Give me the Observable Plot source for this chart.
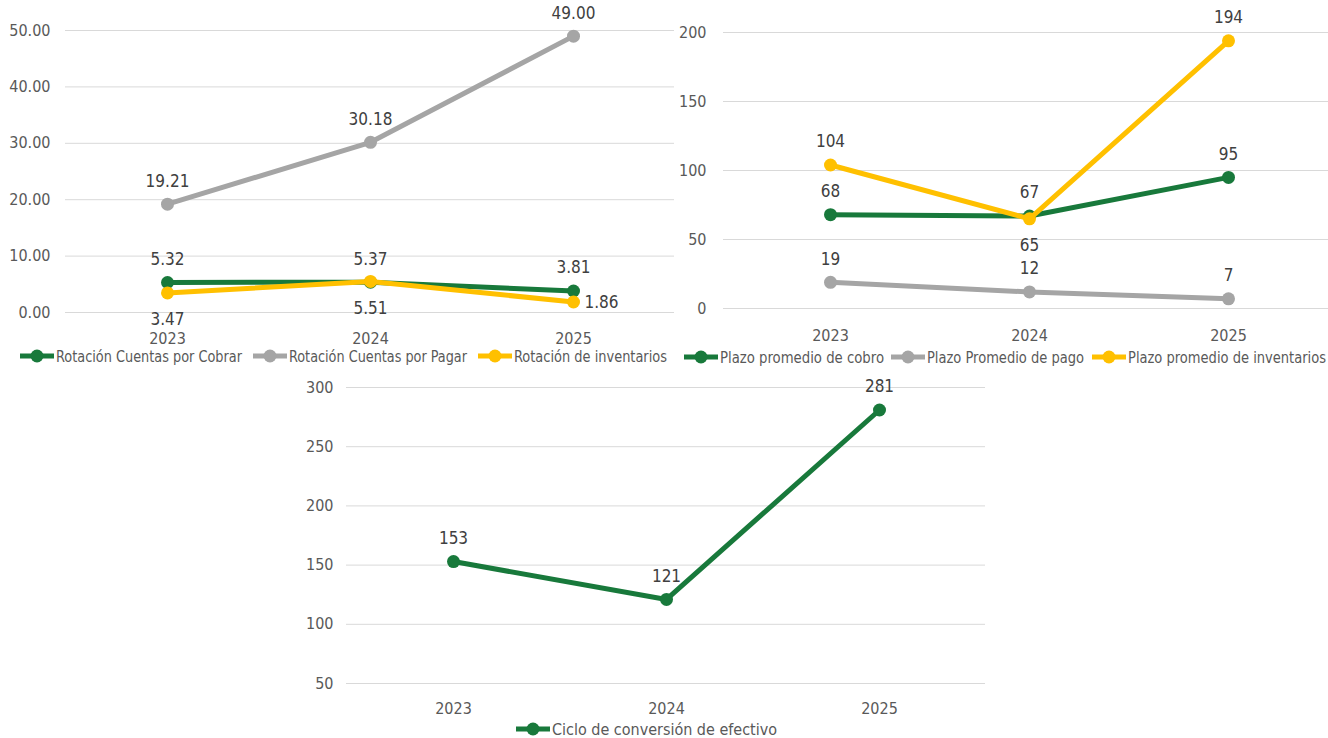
<!DOCTYPE html>
<html><head><meta charset="utf-8">
<script src="https://cdn.jsdelivr.net/npm/d3@7"></script>
<script src="https://cdn.jsdelivr.net/npm/@observablehq/plot@0.6"></script>
<style>
body{margin:0;background:#fff;font-family:"Liberation Sans Narrow","DejaVu Sans Condensed",sans-serif;}
#root{position:relative;width:1328px;height:738px;overflow:hidden;background:#fff;}
.chart{position:absolute;}
.lg{position:absolute;display:flex;align-items:center;font-size:16px;color:#595959;white-space:nowrap;height:20px;}
.lg svg{display:block;margin-right:1px;flex:none;}
.lg span{display:inline-block;transform-origin:0 50%;}
</style></head><body><div id="root"></div>
<script>
// ---- data ----
const years = ["2023", "2024", "2025"];
const rotCobrar = [5.32, 5.37, 3.81];
const rotPagar = [19.21, 30.18, 49.00];
const rotInv = [3.47, 5.51, 1.86];
const plazoCobro = [68, 67, 95];
const plazoPago = [19, 12, 7];
const plazoInv = [104, 65, 194];
const ciclo = [153, 121, 281];
const names1 = ["Rotación Cuentas por Cobrar", "Rotación Cuentas por Pagar", "Rotación de inventarios"];
const names2 = ["Plazo promedio de cobro", "Plazo Promedio de pago", "Plazo promedio de inventarios"];
const names3 = ["Ciclo de conversión de efectivo"];
const ticks1 = [0, 10, 20, 30, 40, 50];
const ticks2 = [0, 50, 100, 150, 200];
const ticks3 = [50, 100, 150, 200, 250, 300];

// ---- styles ----
const GREEN = "#18793B", GRAY = "#A5A5A5", YELLOW = "#FFC000";
const FONT = '"Liberation Sans Narrow","DejaVu Sans Condensed",sans-serif';
const root = document.getElementById("root");

function rowsOf(names, arrays) {
  const rows = [];
  names.forEach((n, s) => arrays[s].forEach((v, i) => rows.push({series: n, s, i, year: years[i], value: v})));
  return rows;
}

function chart(o) {
  const rows = rowsOf(o.names, o.values);
  const color = {domain: o.names, range: o.colors};
  const marks = [
    Plot.ruleY(o.ticks, {stroke: "#D9D9D9", strokeWidth: 1, insetLeft: o.gridInset || 0})
  ];
  o.names.forEach(n => {
    const d = rows.filter(r => r.series === n);
    marks.push(Plot.line(d, {x: "year", y: "value", stroke: "series", strokeWidth: 5, strokeLinejoin: "round"}));
    marks.push(Plot.dot(d, {x: "year", y: "value", fill: "series", r: 6.5}));
  });
  const place = o.place;
  const lbl = (where, extra) => Plot.text(rows.filter(r => place(r) === where), {
    x: "year", y: "value", text: r => o.fmt(r.value), fill: "#404040", fontSize: 17, ...extra
  });
  marks.push(lbl("above", {dy: -23}));
  marks.push(lbl("below", {dy: 27}));
  marks.push(lbl("right", {dx: 11, dy: 1, textAnchor: "start"}));
  marks.push(Plot.axisY(o.ticks, {tickSize: 0, tickPadding: o.yPad, tickFormat: o.tickFmt, fontSize: 16, fill: "#595959"}));
  marks.push(Plot.axisX({tickSize: 0, tickPadding: o.xPad, fontSize: 16, fill: "#595959"}));
  const svg = Plot.plot({
    width: o.width, height: o.height,
    marginLeft: o.ml, marginRight: 0, marginTop: o.mt, marginBottom: o.mb,
    style: {fontFamily: FONT, fontSize: "16px", color: "#595959", background: "transparent", overflow: "visible"},
    x: {type: "point", domain: years, padding: 0.5, label: null},
    y: {domain: o.domain, label: null},
    color,
    marks
  });
  svg.classList.add("chart");
  svg.style.left = o.left + "px";
  svg.style.top = o.top + "px";
  root.appendChild(svg);
}

// legend: swatch + label, label squeezed to the given width
function legend(names, colors, xs, widths, y) {
  names.forEach((n, k) => {
    const div = document.createElement("div");
    div.className = "lg";
    div.style.left = xs[k] + "px";
    div.style.top = (y - 10) + "px";
    div.innerHTML = `<svg width="36" height="16"><line x1="1" y1="8" x2="35" y2="8" stroke="${colors[k]}" stroke-width="5"/><circle cx="18" cy="8" r="6.5" fill="${colors[k]}"/></svg><span>${n}</span>`;
    root.appendChild(div);
    const sp = div.querySelector("span");
    const w = sp.getBoundingClientRect().width;
    if (w > 0) sp.style.transform = `scaleX(${widths[k] / w})`;
  });
}

// Chart 1: rotaciones
chart({
  names: names1, values: [rotCobrar, rotPagar, rotInv], colors: [GREEN, GRAY, YELLOW],
  ticks: ticks1, domain: [0, 50], tickFmt: d3.format(".2f"), fmt: d3.format(".2f"),
  left: 0, top: 0, width: 674, height: 352, ml: 65, mt: 30, mb: 40, yPad: 15, xPad: 20,
  place: r => r.s === 2 ? (r.i === 2 ? "right" : "below") : "above"
});
legend(names1, [GREEN, GRAY, YELLOW], [19, 252, 477], [186, 178, 153], 356);

// Chart 2: plazos
chart({
  names: names2, values: [plazoCobro, plazoPago, plazoInv], colors: [GREEN, GRAY, YELLOW],
  ticks: ticks2, domain: [0, 200], tickFmt: d3.format("d"), fmt: d3.format(".0f"),
  left: 674, top: 0, width: 654, height: 348, ml: 56, mt: 32, mb: 40, yPad: 24, xPad: 21, gridInset: -7,
  place: r => (r.s === 2 && r.i === 1) ? "below" : "above"
});
legend(names2, [GREEN, GRAY, YELLOW], [683, 890, 1091], [164, 157, 198], 357);

// Chart 3: ciclo
chart({
  names: names3, values: [ciclo], colors: [GREEN],
  ticks: ticks3, domain: [50, 300], tickFmt: d3.format("d"), fmt: d3.format(".0f"),
  left: 280, top: 370, width: 705, height: 345, ml: 66, mt: 17, mb: 32, yPad: 13, xPad: 19,
  place: r => "above"
});
legend(names3, [GREEN], [515], [225], 729);
</script></body></html>
